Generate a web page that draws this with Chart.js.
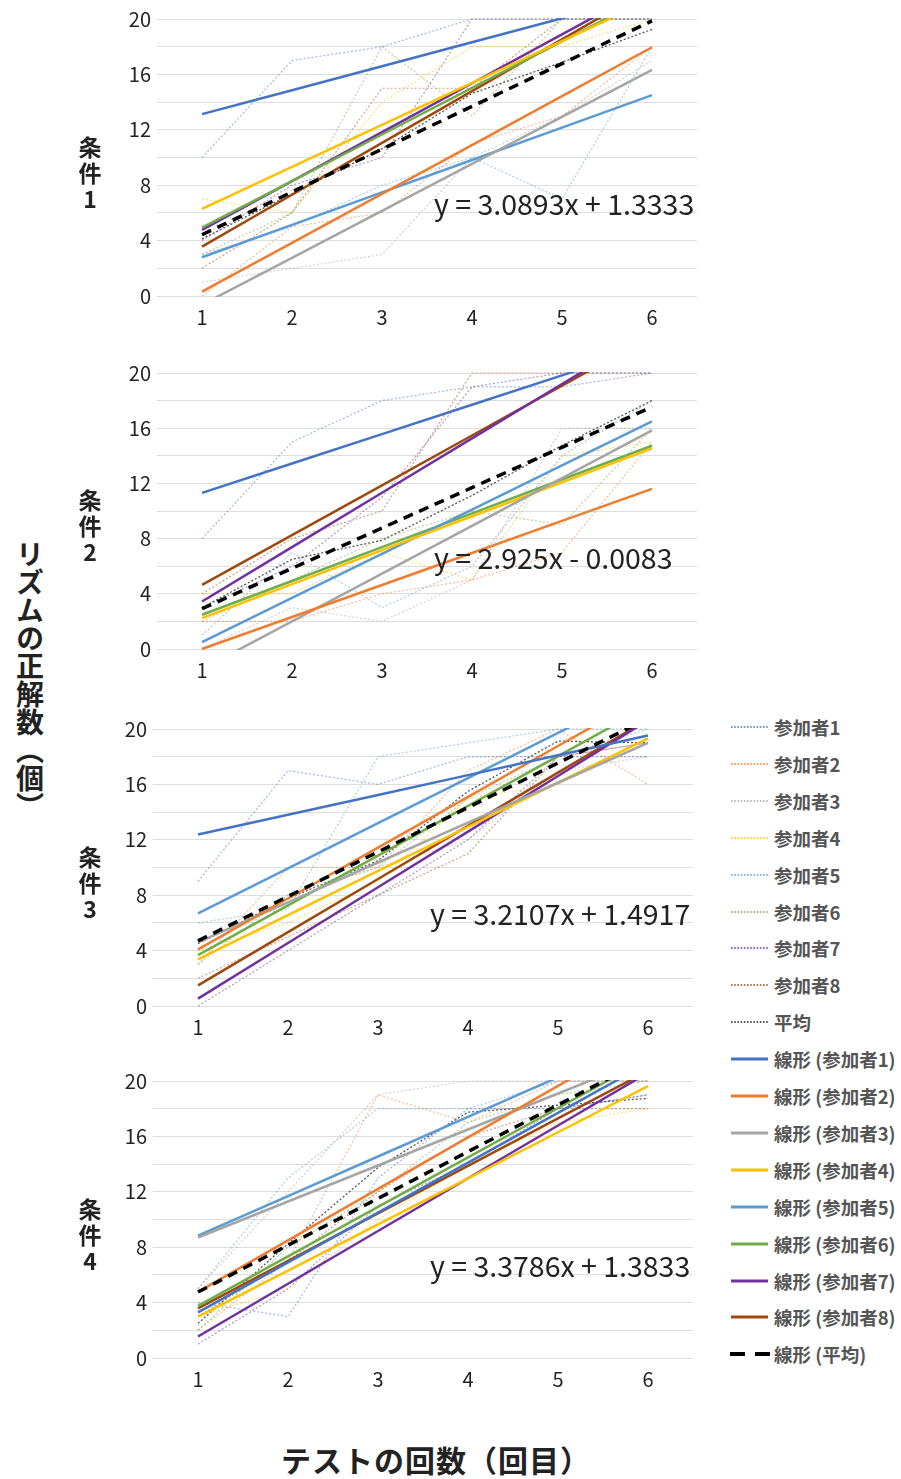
<!DOCTYPE html>
<html>
<head>
<meta charset="utf-8">
<script src="https://cdn.jsdelivr.net/npm/chart.js@4.4.1/dist/chart.umd.min.js"></script>
<style>
  body { margin: 0; background: #fff; width: 901px; height: 1479px; position: relative; overflow: hidden;
         font-family: "Noto Sans CJK JP", "Noto Sans", sans-serif; }
  canvas { position: absolute; }
  .cond { position: absolute; width: 40px; text-align: center; font-weight: bold; font-size: 23px;
          line-height: 26px; color: #222; }
  #ytitle { position: absolute; left: 15px; top: 540px; writing-mode: vertical-rl; font-size: 28px;
            font-weight: bold; line-height: 30px; color: #222; }
  #xtitle { position: absolute; left: 281px; top: 1444px; font-size: 30px; line-height: 30px; font-weight: bold;
            letter-spacing: 1px; color: #222; white-space: nowrap; }
  .lg { position: absolute; left: 730px; height: 24px; display: flex; align-items: center;
        font-size: 18.5px; font-weight: bold; color: #555; white-space: nowrap; }
  .lg svg { margin-right: 4px; }
</style>
</head>
<body>
<div id="ytitle">リズムの正解数（個）</div>
<div id="xtitle">テストの回数（回目）</div>
<script>
const tests = ['1', '2', '3', '4', '5', '6'];
const people = ['参加者1', '参加者2', '参加者3', '参加者4', '参加者5', '参加者6', '参加者7', '参加者8'];
const conditions = ['条件1', '条件2', '条件3', '条件4'];
const lineColors = ['#4472C4', '#ED7D31', '#A5A5A5', '#FFC000', '#5B9BD5', '#70AD47', '#7030A0', '#9E480E'];

// raw scores, one row per participant
const scores1 = [
  [10, 17, 18, 20, 20, 20],
  [0, 5, 6, 11, 13, 18],
  [1, 2, 3, 10, 13, 17],
  [7, 6, 14, 18, 18, 20],
  [3, 5, 8, 10, 7, 18],
  [3, 6, 18, 13, 20, 20],
  [4, 8, 10, 20, 20, 20],
  [2, 6, 15, 15, 20, 20]
];
const scores2 = [
  [8, 15, 18, 19, 19, 20],
  [2, 2, 4, 5, 7, 15],
  [0, 3, 2, 5, 16, 16],
  [4, 4, 7, 5, 14, 15],
  [1, 7, 3, 6, 14, 18],
  [2, 5, 8, 10, 9, 16],
  [3, 6, 11, 19, 20, 20],
  [4, 8, 10, 20, 20, 20]
];
const scores3 = [
  [9, 17, 16, 18, 18, 18],
  [3, 10, 10, 17, 20, 16],
  [4, 8, 10, 12, 17, 18],
  [4, 6, 9, 15, 16, 19],
  [6, 7, 18, 19, 20, 20],
  [3, 8, 10, 15, 18, 20],
  [0, 4, 8, 12, 18, 19],
  [2, 5, 8, 11, 18, 19]
];
const scores4 = [
  [4, 3, 13, 18, 18, 19],
  [2, 7, 19, 17, 20, 20],
  [5, 12, 19, 20, 20, 20],
  [3, 5, 10, 14, 17, 18],
  [5, 13, 18, 18, 20, 20],
  [2, 8, 12, 17, 19, 20],
  [1, 5, 11, 14, 18, 19],
  [3, 7, 12, 16, 18, 18]
];
const mean1 = [4.125, 7.375, 10.625, 14.625, 16.875, 19.25];
const mean2 = [3, 6.5, 7.875, 11.125, 14.75, 18];
const mean3 = [4.5, 7.75, 10.5, 15.5, 19.125, 19];
const mean4 = [2.5, 8.25, 13.75, 17.75, 18.25, 18.75];

// linear trend per participant: slope and intercept
const slope1 = [1.73, 3.53, 3.39, 3.03, 2.34, 3.36, 3.53, 3.74];
const icept1 = [11.4, -3.22, -4.02, 3.26, 0.46, 1.58, 1.24, -0.17];
const slope2 = [2.13, 2.32, 3.46, 2.46, 3.2, 2.45, 3.94, 3.61];
const icept2 = [9.18, -2.32, -4.92, -0.22, -2.7, 0.03, -0.5, 1.03];
const slope3 = [1.43, 3.67, 2.88, 3.19, 3.26, 3.59, 4.02, 3.84];
const icept3 = [10.95, 0.42, 1.72, 0.18, 3.42, 0.09, -3.49, -2.35];
const slope4 = [3.6, 3.72, 2.6, 3.33, 2.86, 3.57, 3.81, 3.43];
const icept4 = [-0.3, 1.05, 6.1, -0.35, 5.97, 0.2, -2.26, 0.15];
// trend of the mean
const meanSlope = [3.0893, 2.925, 3.2107, 3.3786];
const meanIcept = [1.3333, -0.0083, 1.4917, 1.3833];

const allScores = [scores1, scores2, scores3, scores4];
const allMeans = [mean1, mean2, mean3, mean4];
const allSlopes = [slope1, slope2, slope3, slope4];
const allIcepts = [icept1, icept2, icept3, icept4];

// plot area of each panel on the page
const boxes = [
  { left: 157, right: 697, top: 19, bottom: 296 },
  { left: 157, right: 697, top: 373, bottom: 649 },
  { left: 153, right: 693, top: 729, bottom: 1006 },
  { left: 153, right: 693, top: 1081, bottom: 1358 }
];

Chart.defaults.font.family = '"Noto Sans CJK JP", "Noto Sans", sans-serif';

function fade(hex, a) {
  const n = parseInt(hex.slice(1), 16);
  return `rgba(${n >> 16}, ${(n >> 8) & 255}, ${n & 255}, ${a})`;
}

function trend(s, b) {
  return tests.map((t, i) => s * (i + 1) + b);
}

function eqText(s, b) {
  return 'y = ' + s + 'x ' + (b < 0 ? '- ' : '+ ') + Math.abs(b);
}

const eqLabel = {
  id: 'eqLabel',
  afterDatasetsDraw(chart, args, opts) {
    const { ctx, chartArea, scales } = chart;
    ctx.save();
    ctx.font = '28.5px "Noto Sans CJK JP"';
    ctx.fillStyle = '#222';
    ctx.textBaseline = 'middle';
    ctx.fillText(opts.text, chartArea.left + 277, scales.y.getPixelForValue(6.6));
    ctx.restore();
  }
};

const padTop = 19, axisW = 70, axisH = 44;

boxes.forEach((box, n) => {
  const canvas = document.createElement('canvas');
  canvas.width = box.right - box.left + axisW + 3;
  canvas.height = box.bottom - box.top + padTop + axisH;
  canvas.style.left = (box.left - axisW) + 'px';
  canvas.style.top = (box.top - padTop) + 'px';
  document.body.appendChild(canvas);

  const datasets = [];
  allScores[n].forEach((row, p) => datasets.push({
    label: people[p], data: row, borderColor: fade(lineColors[p], 0.5),
    borderWidth: 1.2, borderDash: [2, 2], order: 2, clip: 1
  }));
  datasets.push({
    label: '平均', data: allMeans[n], borderColor: 'rgba(30,30,30,0.75)',
    borderWidth: 1.3, borderDash: [2, 2], order: 2, clip: 1
  });
  allSlopes[n].forEach((s, p) => datasets.push({
    label: '線形 (' + people[p] + ')', data: trend(s, allIcepts[n][p]),
    borderColor: lineColors[p], borderWidth: 2.5, order: 1, clip: 1
  }));
  datasets.push({
    label: '線形 (平均)', data: trend(meanSlope[n], meanIcept[n]),
    borderColor: '#000', borderWidth: 3.5, borderDash: [10, 7], order: 0, clip: 1
  });

  new Chart(canvas, {
    type: 'line',
    data: { labels: tests, datasets: datasets },
    options: {
      responsive: false,
      animation: false,
      devicePixelRatio: 1,
      layout: { padding: { top: padTop, right: 3, left: 0, bottom: 0 } },
      elements: { point: { radius: 0 }, line: { tension: 0 } },
      plugins: {
        legend: { display: false },
        tooltip: { enabled: false },
        eqLabel: { text: eqText(meanSlope[n], meanIcept[n]) }
      },
      scales: {
        x: {
          offset: true,
          grid: { display: false },
          border: { display: false },
          ticks: { font: { size: 20 }, color: '#222', padding: 1 },
          afterFit(scale) { scale.height = axisH; }
        },
        y: {
          min: 0, max: 20,
          grid: { color: '#dedede', drawTicks: false },
          border: { display: false },
          ticks: {
            stepSize: 2, autoSkip: false, padding: 6, font: { size: 20 }, color: '#222',
            callback: v => (v % 4 === 0 ? v : '')
          },
          afterFit(scale) { scale.width = axisW; }
        }
      }
    },
    plugins: [eqLabel]
  });

  const lab = document.createElement('div');
  lab.className = 'cond';
  lab.innerHTML = conditions[n].split('').join('<br>');
  lab.style.left = '70px';
  lab.style.top = ((box.top + box.bottom) / 2 + 14 - 39) + 'px';
  document.body.appendChild(lab);
});

// legend down the right side
const legendItems = [];
people.forEach((p, i) => legendItems.push({ text: p, color: lineColors[i], kind: 'dot' }));
legendItems.push({ text: '平均', color: '#222', kind: 'dot' });
people.forEach((p, i) => legendItems.push({ text: '線形 (' + p + ')', color: lineColors[i], kind: 'solid' }));
legendItems.push({ text: '線形 (平均)', color: '#000', kind: 'dash' });

legendItems.forEach((it, i) => {
  const row = document.createElement('div');
  row.className = 'lg';
  row.style.top = (727 + i * 36.9 - 12) + 'px';
  let line;
  if (it.kind === 'dot') {
    line = `<line x1="1" y1="4" x2="38" y2="4" stroke="${it.color}" stroke-width="1.6" stroke-dasharray="1.6 1.6"/>`;
  } else if (it.kind === 'solid') {
    line = `<line x1="1" y1="4" x2="38" y2="4" stroke="${it.color}" stroke-width="3"/>`;
  } else {
    line = `<line x1="0" y1="4" x2="40" y2="4" stroke="${it.color}" stroke-width="4" stroke-dasharray="15 10"/>`;
  }
  row.innerHTML = `<svg width="40" height="8">${line}</svg><span>${it.text}</span>`;
  document.body.appendChild(row);
});
</script>
</body>
</html>
